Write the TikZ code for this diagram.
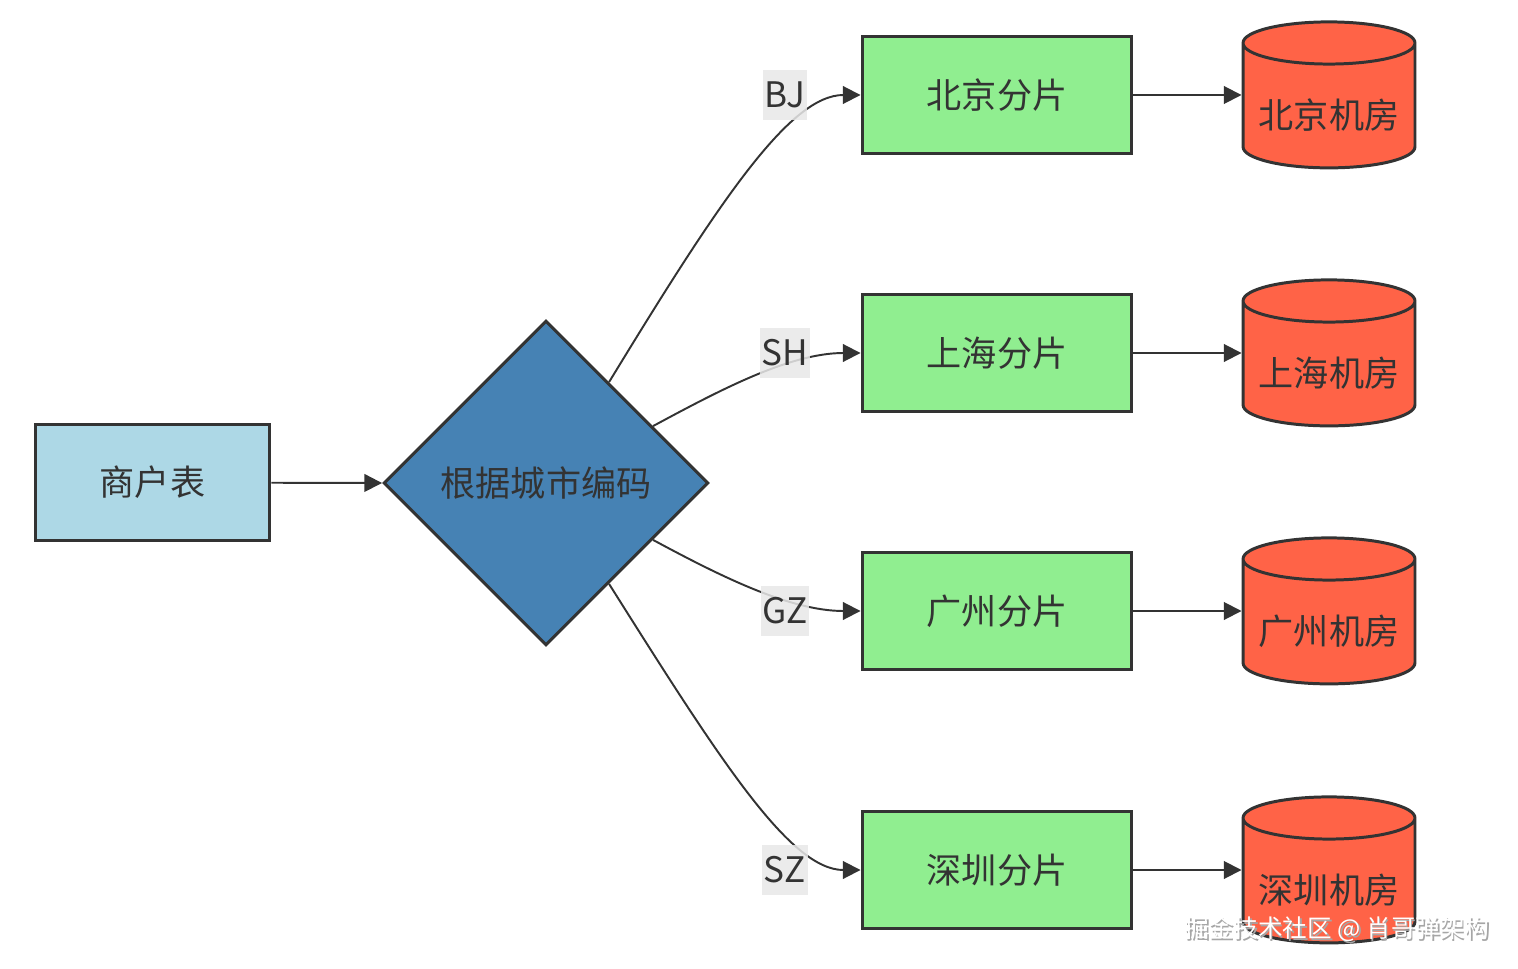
\documentclass[tikz,border=0pt]{standalone}
\usepackage{fontspec}
\usetikzlibrary{arrows.meta,shapes.geometric,positioning}
\newfontfamily\cjk{Noto Sans CJK SC}
\definecolor{InkDark}{HTML}{333333}
\definecolor{TableBlue}{HTML}{ADD8E6}
\definecolor{RouteBlue}{HTML}{4682B4}
\definecolor{ShardGreen}{HTML}{90EE90}
\definecolor{RoomRed}{HTML}{FF6347}
\definecolor{LabelGray}{HTML}{E8E8E8}
\begin{document}
\begin{tikzpicture}[x=0.02cm,y=-0.02cm,
    txt/.style={font=\cjk\fontsize{20}{24}\selectfont,text=InkDark},
    tablebox/.style={txt,rectangle,draw=InkDark,line width=1.7pt,fill=TableBlue,
                     minimum width=4.7cm,minimum height=2.34cm},
    router/.style={txt,diamond,draw=InkDark,line width=1.7pt,fill=RouteBlue,
                   minimum width=6.5cm,minimum height=6.5cm,inner sep=0pt},
    shard/.style={txt,rectangle,draw=InkDark,line width=1.7pt,fill=ShardGreen,
                  minimum width=5.4cm,minimum height=2.34cm},
    room/.style={cylinder,shape border rotate=90,aspect=3.6,draw=InkDark,line width=1.7pt,
                 fill=RoomRed,minimum width=3.44cm,minimum height=2.92cm},
    tag/.style={txt,fill=LabelGray,fill opacity=0.85,text opacity=1,inner xsep=1pt,
                minimum height=1cm},
    flow/.style={-{Triangle[length=10pt,width=10pt]},InkDark,line width=1.1pt}
  ]
  \useasboundingbox (0,0) rectangle (1518,969);

  \node[tablebox] (merchant) at (152.5,482.5) {商户表};
  \node[router] (route) at (546,483) {根据城市编码};

  \node[shard] (bj) at (997,95) {北京分片};
  \node[shard] (sh) at (997,353) {上海分片};
  \node[shard] (gz) at (997,611) {广州分片};
  \node[shard] (sz) at (997,870) {深圳分片};

  \node[room] (bjroom) at (1329,110) {};
  \node[room] (shroom) at (1329,368) {};
  \node[room] (gzroom) at (1329,626) {};
  \node[room] (szroom) at (1329,885) {};
  \node[txt] (bjroomtxt) at ([yshift=-0.1cm]bjroom.center) {北京机房};
  \node[txt] (shroomtxt) at ([yshift=-0.1cm]shroom.center) {上海机房};
  \node[txt] (gzroomtxt) at ([yshift=-0.1cm]gzroom.center) {广州机房};
  \node[txt] (szroomtxt) at ([yshift=-0.1cm]szroom.center) {深圳机房};

  \draw[flow] (merchant) -- (route.west);

  \draw[flow] (route.58) .. controls (720,200) and (790,95) .. (bj.west);
  \draw[flow] (route.28) .. controls (720,390) and (790,353) .. (sh.west);
  \draw[flow] (route.-28) .. controls (720,576) and (790,611) .. (gz.west);
  \draw[flow] (route.-58) .. controls (720,760) and (790,870) .. (sz.west);

  \node[tag] (bjtag) at (785,95) {BJ};
  \node[tag] (shtag) at (785,353) {SH};
  \node[tag] (gztag) at (785,611) {GZ};
  \node[tag] (sztag) at (785,870) {SZ};

  \draw[flow] (bj) -- (bjroom.west |- bj);
  \draw[flow] (sh) -- (shroom.west |- sh);
  \draw[flow] (gz) -- (gzroom.west |- gz);
  \draw[flow] (sz) -- (szroom.west |- sz);

  \node[font=\cjk\fontsize{14}{16}\selectfont,text=gray!70] (markshadow) at (1338.5,931) {掘金技术社区 @ 肖哥弹架构};
  \node[font=\cjk\fontsize{14}{16}\selectfont,text=white] (mark) at (1337,929) {掘金技术社区 @ 肖哥弹架构};
\end{tikzpicture}
\end{document}
